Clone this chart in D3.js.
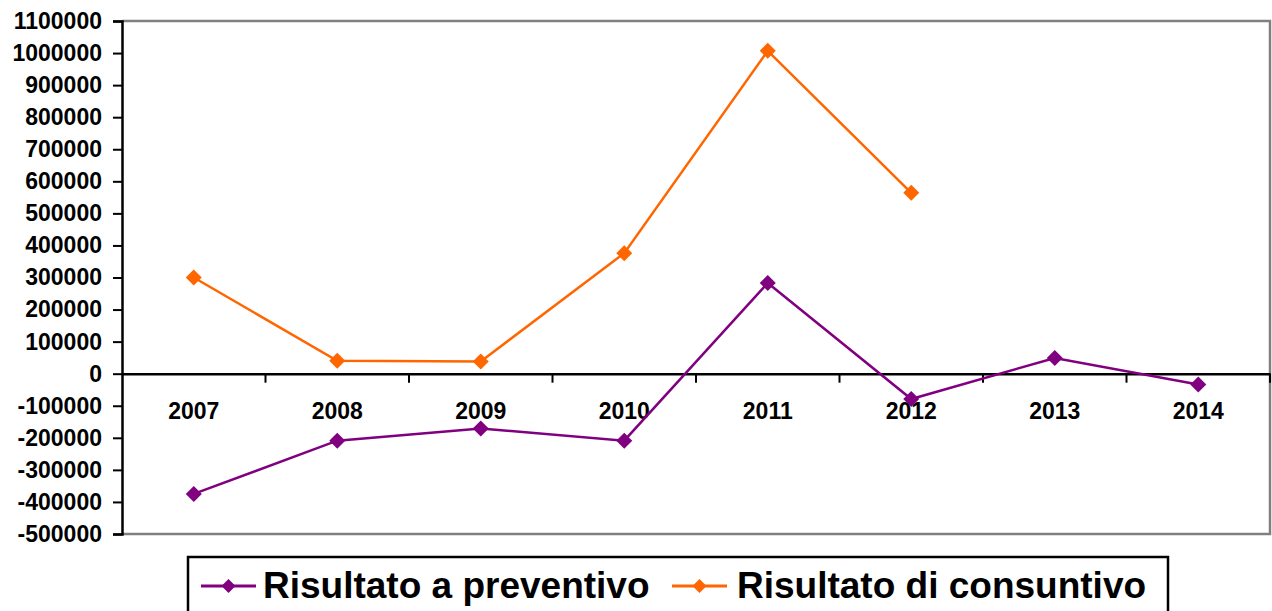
<!DOCTYPE html>
<html><head><meta charset="utf-8">
<script src="https://cdn.jsdelivr.net/npm/d3@7"></script>
<style>body{margin:0;background:#fff}svg{display:block}text{font-family:"Liberation Sans",Arial,sans-serif;font-weight:bold;fill:#000}</style>
</head><body>
<svg id="c" width="1272" height="611"></svg>
<script>
const categories = ["2007","2008","2009","2010","2011","2012","2013","2014"];
const preventivo = [-375000,-209000,-171000,-209000,283000,-79000,49000,-34000];
const consuntivo = [300000,40000,38000,376000,1007000,564000,null,null];
const yTicks = d3.range(-500000, 1100001, 100000);
const seriesNames = ["Risultato a preventivo","Risultato di consuntivo"];
const colors = ["#800080","#FF6600"];

const svg = d3.select("#c");
const L = 122, R = 1270, T = 21, B = 534;
const x = d3.scaleBand().domain(categories).range([L, R]).padding(0);
const y = d3.scaleLinear().domain([-500000, 1100000]).range([B, T]);

// plot border (grey)
svg.append("path").attr("d", `M${L},${T}H${R}V${B}H${L}`).attr("fill","none").attr("stroke","#808080").attr("stroke-width",2.5);

// y axis
const ya = d3.axisLeft(y).tickValues(yTicks).tickSize(9).tickPadding(11).tickFormat(d => String(d));
const gy = svg.append("g").attr("transform",`translate(${L},0)`).call(ya);
gy.select(".domain").attr("stroke","#000").attr("stroke-width",2.5);
gy.selectAll(".tick line").attr("stroke","#000").attr("stroke-width",2);
gy.selectAll(".tick text").style("font-size","23px").style("font-weight","bold").attr("fill","#000").attr("font-family","Liberation Sans, Arial, sans-serif");

// x axis at zero
const xa = d3.axisBottom(x).tickSize(0).tickPadding(29);
const gx = svg.append("g").attr("transform",`translate(0,${y(0)})`).call(xa);
gx.select(".domain").attr("stroke","#000").attr("stroke-width",2.5);
gx.selectAll(".tick text").style("font-size","23px").style("font-weight","bold").attr("fill","#000").attr("font-family","Liberation Sans, Arial, sans-serif");
// category boundary ticks
svg.append("g").selectAll("line").data(categories).join("line")
  .attr("x1", d => x(d) + x.bandwidth()).attr("x2", d => x(d) + x.bandwidth())
  .attr("y1", y(0)).attr("y2", y(0) + 9).attr("stroke","#000").attr("stroke-width",2);

const diamond = (s) => `M0,${-s}L${s},0L0,${s}L${-s},0Z`;
const cx = d => x(d) + x.bandwidth()/2;

[preventivo, consuntivo].forEach((vals, i) => {
  const pts = categories.map((c, j) => ({c, v: vals[j]})).filter(p => p.v !== null);
  const line = d3.line().x(p => cx(p.c)).y(p => y(p.v));
  svg.append("path").attr("d", line(pts)).attr("fill","none").attr("stroke",colors[i]).attr("stroke-width",2.5);
  svg.append("g").selectAll("path").data(pts).join("path")
    .attr("d", diamond(8)).attr("transform", p => `translate(${cx(p.c)},${y(p.v)})`).attr("fill",colors[i]);
});

// legend
const lg = svg.append("g");
lg.append("rect").attr("x",188).attr("y",557).attr("width",980).attr("height",70).attr("fill","#fff").attr("stroke","#000").attr("stroke-width",2.5);
const legX = [[201,256,263],[672,727,737]];
seriesNames.forEach((n,i) => {
  const [a,b,t] = legX[i];
  lg.append("line").attr("x1",a).attr("x2",b).attr("y1",586).attr("y2",586).attr("stroke",colors[i]).attr("stroke-width",3);
  lg.append("path").attr("d",diamond(7)).attr("transform",`translate(${(a+b)/2},586)`).attr("fill",colors[i]);
  lg.append("text").attr("x",t).attr("y",598).style("font-size","37px").text(n);
});
</script>
</body></html>
